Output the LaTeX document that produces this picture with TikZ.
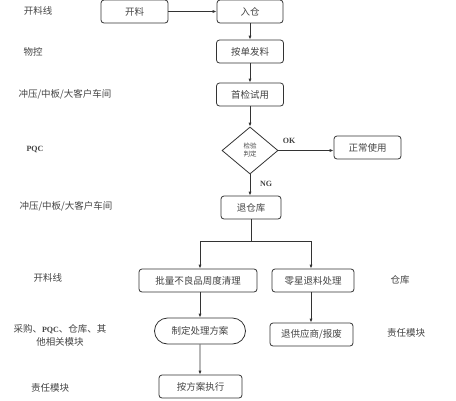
\documentclass[tikz,border=0pt]{standalone}
\usepackage{fontspec}
\setmainfont{Liberation Serif}
\newfontfamily\cjk{Noto Sans CJK SC}
\usetikzlibrary{arrows.meta,shapes.geometric,shapes.misc}
\definecolor{lc}{HTML}{333333}
\definecolor{tc}{HTML}{444444}
\begin{document}
\begin{tikzpicture}[x=1pt,y=-1pt,
  box/.style={draw=lc, line width=0.8pt, rounded corners=3pt, minimum height=23pt, inner sep=0pt, text=tc, font=\cjk\fontsize{9.5}{11}\selectfont},
  arr/.style={draw=lc, line width=0.8pt, -{Latex[length=4pt,width=3.2pt]}},
  ln/.style={draw=lc, line width=0.8pt},
  lab/.style={text=tc, align=center, font=\cjk\fontsize{9.5}{13}\selectfont},
  lat/.style={text=tc, font=\bfseries\fontsize{8}{10}\selectfont}]
\useasboundingbox[fill=white] (0,0) rectangle (456,400);
% main column
\node[box, minimum width=67pt] (kl) at (134.5,11.5) {开料};
\node[box, minimum width=66pt] (rc) at (250,11.5) {入仓};
\node[box, minimum width=67pt] (ad) at (250,51.5) {按单发料};
\node[box, minimum width=67pt] (sj) at (250,94.5) {首检试用};
\node[diamond, draw=lc, line width=0.8pt, minimum width=56pt, minimum height=47pt, inner sep=0pt, align=center, text=tc, font=\cjk\fontsize{6.5}{8}\selectfont] (pd) at (250,150.5) {检验\\判定};
\node[box, minimum width=67pt] (zc) at (367.5,147.5) {正常使用};
\node[box, minimum width=60pt] (tk) at (251,207.5) {退仓库};
\coordinate (j) at (251,241);
\coordinate (j1) at (200,241);
\coordinate (j2) at (311,241);
\node[box, minimum width=118pt] (pl) at (198,280.5) {批量不良品周度清理};
\node[box, minimum width=82pt] (lx) at (313,280.5) {零星退料处理};
\node[draw=lc, line width=0.8pt, rounded rectangle, minimum width=91pt, minimum height=26pt, inner sep=0pt, text=tc, font=\cjk\fontsize{9.5}{11}\selectfont] (zd) at (200,331) {制定处理方案};
\node[box, minimum width=83pt] (tg) at (311.5,334.5) {退供应商/报废};
\node[box, minimum width=83pt] (af) at (200.5,386.5) {按方案执行};
% labels
\node[lat] (ok) at (289,141) {OK};
\node[lat] (ng) at (266,184) {NG};
\node[lab] (l1) at (38,11) {开料线};
\node[lab] (l2) at (33,52) {物控};
\node[lab] (l3) at (65,94) {冲压/中板/大客户车间};
\node[lat] (l4) at (35,149) {PQC};
\node[lab] (l5) at (66,206) {冲压/中板/大客户车间};
\node[lab] (l6) at (48,278) {开料线};
\node[lab] (l7) at (60,335) {采购、{\rmfamily\bfseries\fontsize{8}{10}\selectfont PQC}、仓库、其\\他相关模块};
\node[lab] (l8) at (50,388) {责任模块};
\node[lab] (r1) at (400,280) {仓库};
\node[lab] (r2) at (406,333) {责任模块};
% connectors
\draw[arr] (kl) -- (rc);
\draw[arr] (rc) -- (ad);
\draw[arr] (ad) -- (sj);
\draw[arr] (sj) -- (pd);
\draw[arr] (pd) -- (zc.west |- pd);
\draw[arr] (pd) -- (pd |- tk.north);
\draw[ln] (tk.south -| j) -- (j);
\draw[ln] (j1) -- (j2);
\draw[arr] (j1) -- (j1 |- pl.north);
\draw[arr] (j2) -- (j2 |- lx.north);
\draw[arr] (zd |- pl.south) -- (zd.north);
\draw[arr] (zd) -- (zd |- af.north);
\draw[arr] (j2 |- lx.south) -- (j2 |- tg.north);
\end{tikzpicture}
\end{document}
